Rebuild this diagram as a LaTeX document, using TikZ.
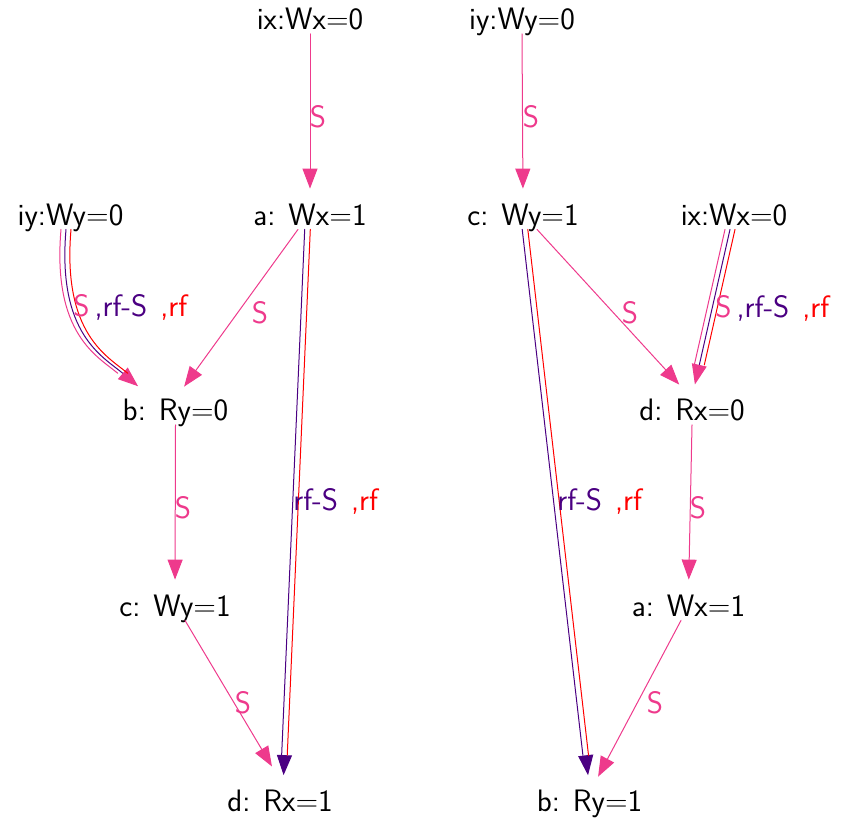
\documentclass[tikz,border=0pt]{standalone}
\usetikzlibrary{arrows.meta}
\definecolor{vred}{HTML}{EE3A8C}
\definecolor{indig}{HTML}{4B0082}
\newcommand{\gp}{\hspace{6.5pt}}
\begin{document}
\begin{tikzpicture}[x=0.5pt,y=-0.5pt,line cap=round,line join=round,
  lbl/.style={font=\sffamily\fontsize{15.5}{19}\selectfont,text height=11pt,text depth=1.5pt,inner sep=0.5pt,anchor=base},
  slbl/.style={font=\sffamily\fontsize{15.5}{19}\selectfont,text=vred,inner sep=0pt},
  elbl/.style={font=\sffamily\fontsize{15.5}{19}\selectfont,inner sep=0pt,anchor=base west},
  sw/.style={line width=0.5pt},
  hd/.style={-{Triangle[length=10pt,width=7.5pt]},shorten >=6.5pt}]
  \useasboundingbox (0,0) rectangle (844,821);
  % left graph
  \node[lbl] (lix) at (310,29.5) {ix:Wx=0};
  \node[lbl] (la) at (310,225) {a:\gp Wx=1};
  \node[lbl] (liy) at (70.5,225) {iy:Wy=0};
  \node[lbl] (lb) at (175.5,420.5) {b:\gp Ry=0};
  \node[lbl] (lc) at (175,616) {c:\gp Wy=1};
  \node[lbl] (ld) at (280,811.5) {d:\gp Rx=1};
  % right graph
  \node[lbl] (riy) at (522,29.5) {iy:Wy=0};
  \node[lbl] (rc) at (523,225) {c:\gp Wy=1};
  \node[lbl] (rix) at (734,225) {ix:Wx=0};
  \node[lbl] (rd) at (692,420.5) {d:\gp Rx=0};
  \node[lbl] (ra) at (688.5,616) {a:\gp Wx=1};
  \node[lbl] (rb) at (589.5,811.5) {b:\gp Ry=1};
  % left edges
  \draw[sw,hd,draw=vred] (lix.south) -- (la.north);
  \draw[sw,hd,draw=vred] ([xshift=-6pt]la.south) -- ([xshift=0.5pt]lb.north);
  \draw[sw,hd,draw=vred] (lb.south) -- (lc.north);
  \draw[sw,hd,draw=vred] ([xshift=5pt]lc.south) -- ([xshift=-0.7pt,yshift=5.25pt]ld.north);
  \draw[sw,draw=indig,-{Triangle[length=10pt,width=7.5pt,color=vred]},shorten >=6.5pt]
    ([xshift=-2.25pt]liy.south) .. controls +(-9,105) and +(-45,-38) .. ([xshift=-13.75pt,yshift=1.25pt]lb.north);
  \foreach \c/\s in {vred/-2.5pt,red/2.5pt}
    \draw[sw,draw=\c,shorten >=16.5pt,transform canvas={xshift=\s}]
      ([xshift=-2.25pt]liy.south) .. controls +(-9,105) and +(-45,-38) .. ([xshift=-13.75pt,yshift=1.25pt]lb.north);
  \draw[sw,draw=white,-{Triangle[length=10pt,width=7.5pt,color=indig]},shorten >=6.5pt]
    ([xshift=-1.25pt]la.south) -- ([xshift=1.5pt]ld.north);
  \foreach \c/\s in {indig/-1.4pt,red/1.4pt}
    \draw[sw,draw=\c,shorten >=16.5pt,transform canvas={xshift=\s}]
      ([xshift=-1.25pt]la.south) -- ([xshift=1.5pt]ld.north);
  % right edges
  \draw[sw,hd,draw=vred] (riy.south) -- (rc.north);
  \draw[sw,hd,draw=vred] ([xshift=7pt]rc.south) -- ([xshift=-2pt,yshift=1.5pt]rd.north);
  \draw[sw,hd,draw=vred] (rd.south) -- (ra.north);
  \draw[sw,hd,draw=vred] ([xshift=-3.75pt]ra.south) -- ([xshift=1.25pt]rb.north);
  \draw[sw,draw=indig,-{Triangle[length=10pt,width=7.5pt,color=vred]},shorten >=6.5pt]
    ([xshift=-2pt]rix.south) -- (rd.north);
  \foreach \c/\s in {vred/-2.5pt,red/2.5pt}
    \draw[sw,draw=\c,shorten >=16.5pt,transform canvas={xshift=\s}]
      ([xshift=-2pt]rix.south) -- (rd.north);
  \draw[sw,draw=white,-{Triangle[length=10pt,width=7.5pt,color=indig]},shorten >=6.5pt]
    ([xshift=1pt]rc.south) -- (rb.north);
  \foreach \c/\s in {indig/-1.4pt,red/1.4pt}
    \draw[sw,draw=\c,shorten >=16.5pt,transform canvas={xshift=\s}]
      ([xshift=1pt]rc.south) -- (rb.north);
  % edge labels
  \node[slbl] (sl1) at (318,117) {S};
  \node[slbl] (sl2) at (260,313) {S};
  \node[slbl] (sl3) at (183,508) {S};
  \node[slbl] (sl4) at (243,703) {S};
  \node[slbl] (sr1) at (531,117) {S};
  \node[slbl] (sr2) at (630,313) {S};
  \node[slbl] (sr3) at (698,508) {S};
  \node[slbl] (sr4) at (655,703) {S};
  \node[elbl] (tl) at (73,316) {\textcolor{vred}{S}\hspace{2.5pt}\textcolor{indig}{,rf-S}\hspace{6.5pt}\textcolor{red}{,rf}};
  \node[elbl] (tr) at (715,317) {\textcolor{vred}{S}\hspace{2.5pt}\textcolor{indig}{,rf-S}\hspace{6.5pt}\textcolor{red}{,rf}};
  \node[elbl] (ul) at (293,510) {\textcolor{indig}{rf-S}\hspace{6.5pt}\textcolor{red}{,rf}};
  \node[elbl] (ur) at (557,510) {\textcolor{indig}{rf-S}\hspace{6.5pt}\textcolor{red}{,rf}};
\end{tikzpicture}
\end{document}
